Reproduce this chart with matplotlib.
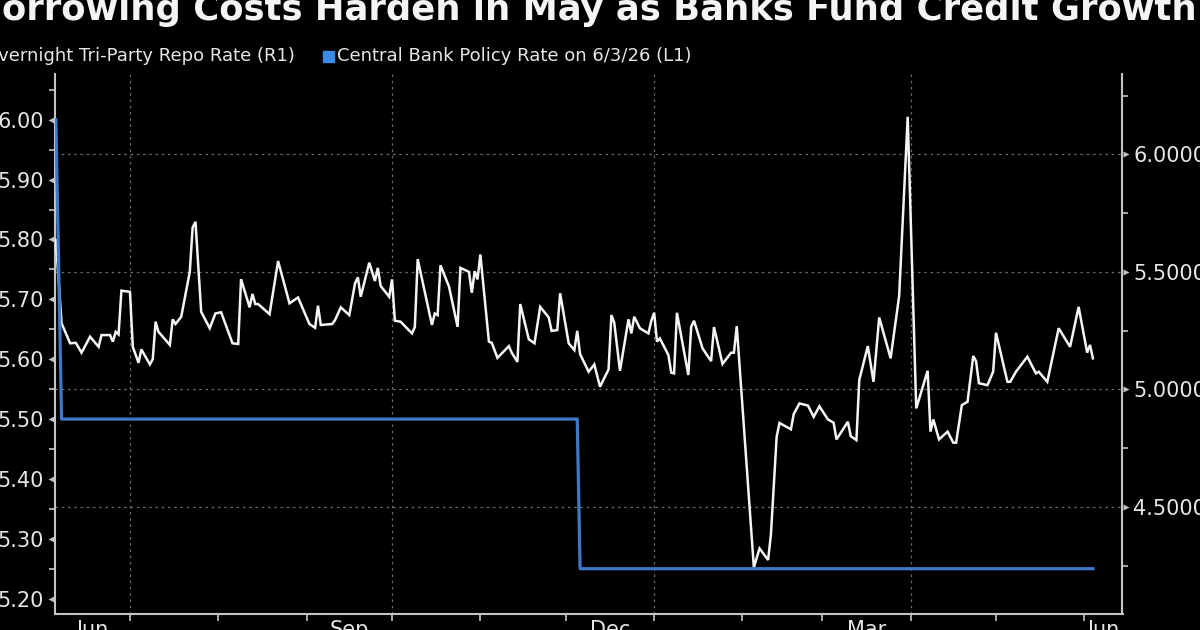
import matplotlib
matplotlib.use("Agg")
import matplotlib.pyplot as plt
import matplotlib.dates as mdates
import matplotlib.ticker as mticker
import matplotlib.patches as mpatches
from matplotlib.transforms import ScaledTranslation
import pandas as pd

title = "Borrowing Costs Harden in May as Banks Fund Credit Growth"
repo_label = "Overnight Tri-Party Repo Rate (R1)"
policy_label = "Central Bank Policy Rate on 6/3/26 (L1)"

repo_dates = [
    "2025-06-05", "2025-06-07", "2025-06-10", "2025-06-12", "2025-06-14", "2025-06-17", "2025-06-20", "2025-06-21", "2025-06-24", "2025-06-25",
    "2025-06-26", "2025-06-27", "2025-06-28", "2025-07-01", "2025-07-02", "2025-07-04", "2025-07-05", "2025-07-08", "2025-07-09", "2025-07-10",
    "2025-07-11", "2025-07-15", "2025-07-16", "2025-07-17", "2025-07-19", "2025-07-22", "2025-07-23", "2025-07-24", "2025-07-26", "2025-07-29",
    "2025-07-31", "2025-08-02", "2025-08-06", "2025-08-08", "2025-08-09", "2025-08-12", "2025-08-13", "2025-08-14", "2025-08-15", "2025-08-19",
    "2025-08-22", "2025-08-26", "2025-08-29", "2025-09-02", "2025-09-04", "2025-09-05", "2025-09-06", "2025-09-10", "2025-09-11", "2025-09-13",
    "2025-09-16", "2025-09-18", "2025-09-19", "2025-09-20", "2025-09-23", "2025-09-25", "2025-09-26", "2025-09-27", "2025-09-30", "2025-10-01",
    "2025-10-02", "2025-10-04", "2025-10-08", "2025-10-09", "2025-10-10", "2025-10-15", "2025-10-16", "2025-10-17", "2025-10-18", "2025-10-21",
    "2025-10-24", "2025-10-25", "2025-10-28", "2025-10-29", "2025-10-30", "2025-10-31", "2025-11-01", "2025-11-04", "2025-11-05", "2025-11-07",
    "2025-11-11", "2025-11-12", "2025-11-14", "2025-11-15", "2025-11-18", "2025-11-20", "2025-11-22", "2025-11-25", "2025-11-26", "2025-11-28",
    "2025-11-29", "2025-12-02", "2025-12-04", "2025-12-05", "2025-12-06", "2025-12-09", "2025-12-11", "2025-12-13", "2025-12-16", "2025-12-17",
    "2025-12-18", "2025-12-20", "2025-12-23", "2025-12-24", "2025-12-25", "2025-12-27", "2025-12-30", "2025-12-31", "2026-01-01", "2026-01-02",
    "2026-01-03", "2026-01-06", "2026-01-07", "2026-01-08", "2026-01-09", "2026-01-13", "2026-01-14", "2026-01-15", "2026-01-18", "2026-01-21",
    "2026-01-22", "2026-01-25", "2026-01-28", "2026-01-29", "2026-01-30", "2026-02-05", "2026-02-07", "2026-02-10", "2026-02-11", "2026-02-13",
    "2026-02-14", "2026-02-18", "2026-02-19", "2026-02-21", "2026-02-24", "2026-02-26", "2026-02-28", "2026-03-03", "2026-03-05", "2026-03-06",
    "2026-03-10", "2026-03-11", "2026-03-13", "2026-03-14", "2026-03-17", "2026-03-19", "2026-03-21", "2026-03-25", "2026-03-28", "2026-03-31",
    "2026-04-03", "2026-04-07", "2026-04-08", "2026-04-09", "2026-04-11", "2026-04-14", "2026-04-16", "2026-04-17", "2026-04-19", "2026-04-21",
    "2026-04-23", "2026-04-24", "2026-04-25", "2026-04-28", "2026-04-30", "2026-05-01", "2026-05-05", "2026-05-06", "2026-05-08", "2026-05-12",
    "2026-05-15", "2026-05-16", "2026-05-19", "2026-05-23", "2026-05-27", "2026-05-30", "2026-06-02", "2026-06-03", "2026-06-04",
]
repo_values = [
    5.635, 5.281, 5.196, 5.198, 5.156, 5.224, 5.181, 5.231, 5.231, 5.203,
    5.245, 5.234, 5.420, 5.415, 5.181, 5.113, 5.170, 5.106, 5.128, 5.288,
    5.245, 5.189, 5.298, 5.278, 5.309, 5.500, 5.689, 5.713, 5.330, 5.260,
    5.323, 5.328, 5.196, 5.193, 5.469, 5.349, 5.406, 5.363, 5.363, 5.320,
    5.546, 5.366, 5.391, 5.278, 5.262, 5.356, 5.274, 5.278, 5.295, 5.349,
    5.316, 5.451, 5.477, 5.394, 5.539, 5.461, 5.517, 5.440, 5.394, 5.468,
    5.292, 5.288, 5.238, 5.265, 5.554, 5.274, 5.323, 5.316, 5.528, 5.437,
    5.266, 5.517, 5.500, 5.411, 5.503, 5.468, 5.574, 5.203, 5.198, 5.134,
    5.184, 5.156, 5.117, 5.363, 5.213, 5.196, 5.351, 5.306, 5.249, 5.252,
    5.409, 5.196, 5.167, 5.249, 5.150, 5.075, 5.106, 5.011, 5.085, 5.316,
    5.283, 5.079, 5.298, 5.238, 5.309, 5.260, 5.238, 5.292, 5.326, 5.203,
    5.217, 5.146, 5.071, 5.068, 5.326, 5.061, 5.266, 5.292, 5.174, 5.120,
    5.265, 5.108, 5.156, 5.156, 5.269, 4.242, 4.323, 4.274, 4.384, 4.798,
    4.857, 4.830, 4.895, 4.940, 4.931, 4.883, 4.928, 4.872, 4.858, 4.787,
    4.862, 4.801, 4.784, 5.040, 5.184, 5.032, 5.306, 5.132, 5.397, 6.160,
    4.919, 5.079, 4.820, 4.872, 4.787, 4.820, 4.773, 4.773, 4.933, 4.947,
    5.142, 5.120, 5.026, 5.018, 5.075, 5.241, 5.032, 5.032, 5.075, 5.139,
    5.068, 5.075, 5.032, 5.260, 5.181, 5.351, 5.156, 5.189, 5.132,
]

policy_dates = ["2025-06-05", "2025-06-07", "2025-12-05", "2025-12-06", "2026-06-04"]
policy_values = [6.00, 5.50, 5.50, 5.25, 5.25]

left_ticks = [5.20, 5.30, 5.40, 5.50, 5.60, 5.70, 5.80, 5.90, 6.00]
right_ticks = [4.50, 5.00, 5.50, 6.00]
month_labels = ["Jun", "Sep", "Dec", "Mar", "Jun"]
label_months = ["2025-06-01", "2025-09-01", "2025-12-01", "2026-03-01", "2026-06-01"]

assert len(repo_dates) == len(repo_values)

BG = "#000000"
FG = "#e6e6e6"
SPINE = "#c4c4c4"
GRID = "#6b6b6b"
WHITE_LINE = "#f4f4f4"
BLUE_LINE = "#3f78c8"
BLUE_KEY = "#3d8ae6"
TICK_FS = 15
LEG_FS = 13

fig = plt.figure(figsize=(12, 6.3), dpi=100, facecolor=BG)
W, H = 1200, 630
ax = fig.add_axes([55 / W, 1 - 614 / H, (1122.5 - 55) / W, (614 - 74) / H])
ax.set_facecolor(BG)
ax2 = ax.twinx()
ax2.patch.set_visible(False)

rd = pd.to_datetime(repo_dates)
pdts = pd.to_datetime(policy_dates)

ax.plot(rd, repo_values, color=WHITE_LINE, lw=1.8, solid_joinstyle="miter", zorder=3)
ax2.plot(pdts, policy_values, color=BLUE_LINE, lw=2.3, zorder=4)

x0 = pd.Timestamp("2025-06-01") + pd.Timedelta(days=3.69)
x1 = pd.Timestamp("2025-06-01") + pd.Timedelta(days=378.4)
ax.set_xlim(x0, x1)
ax.set_ylim(4.044, 6.342)
ax2.set_ylim(5.1743, 6.0765)

# spines
for a in (ax, ax2):
    for s in a.spines.values():
        s.set_visible(False)
for side in ("left", "right", "bottom"):
    ax.spines[side].set_visible(True)
    ax.spines[side].set_color(SPINE)
    ax.spines[side].set_linewidth(1.5)

# right axis (repo)
ax.yaxis.tick_right()
ax.set_yticks(right_ticks)
ax.yaxis.set_minor_locator(mticker.FixedLocator([4.25, 4.75, 5.25, 5.75, 6.25]))
ax.yaxis.set_major_formatter(mticker.FormatStrFormatter("%.4f"))
ax.tick_params(axis="y", which="major", length=0, pad=7.6, labelsize=TICK_FS, labelcolor=FG)
ax.tick_params(axis="y", which="minor", length=4, width=1.2, color=SPINE, right=True, left=False)

# left axis (policy)
ax2.yaxis.tick_left()
ax2.set_yticks(left_ticks)
ax2.yaxis.set_minor_locator(mticker.MultipleLocator(0.05))
ax2.yaxis.set_major_formatter(mticker.FormatStrFormatter("%.2f"))
ax2.tick_params(axis="y", which="major", length=0, pad=8.0, labelsize=TICK_FS, labelcolor=FG)
ax2.tick_params(axis="y", which="minor", length=4, width=1.2, color=SPINE, left=True, right=False)

# triangle tick markers
tr_r = ax.get_yaxis_transform() + ScaledTranslation(4 / 100, 0, fig.dpi_scale_trans)
ax.plot([1] * len(right_ticks), right_ticks, ls="none", marker=">", ms=5, color=SPINE,
        mec="none", transform=tr_r, clip_on=False)
tr_l = ax2.get_yaxis_transform() + ScaledTranslation(-4 / 100, 0, fig.dpi_scale_trans)
ax2.plot([0] * len(left_ticks), left_ticks, ls="none", marker="<", ms=5, color=SPINE,
         mec="none", transform=tr_l, clip_on=False)

# x axis
ax.xaxis.set_major_locator(mdates.MonthLocator(bymonth=[1, 4, 7, 10]))
ax.xaxis.set_minor_locator(mdates.MonthLocator())
ax.xaxis.set_major_formatter(mticker.NullFormatter())
ax.tick_params(axis="x", which="both", length=5, width=1.2, color=SPINE, direction="out")

# grids
ax.grid(True, axis="y", which="major", color=GRID, lw=0.9, ls=(0, (2, 3)))
ax.grid(True, axis="x", which="major", color=GRID, lw=0.9, ls=(0, (2, 3)))

# month labels centred in the visible part of each labelled month
lab_tr = ax.get_xaxis_transform() + ScaledTranslation(0, -6 / 100, fig.dpi_scale_trans)
for lab, m in zip(month_labels, label_months):
    ms = pd.Timestamp(m)
    me = ms + pd.offsets.MonthBegin(1)
    a = max(ms, x0)
    b = min(me, x1)
    c = a + (b - a) / 2
    ax.text(c, 0, lab, transform=lab_tr, ha="center", va="top",
            fontsize=TICK_FS, color=FG, clip_on=False)

# title
fig.text(1197 / W, 1 - 20 / H, title, ha="right", va="baseline",
         fontsize=25.5, fontweight="bold", color="#f4f4f4")

# legend
ly = 1 - 56 / H
t1 = fig.text(295 / W, ly, repo_label, ha="right", va="center", fontsize=LEG_FS, color=FG)
fig.text(337 / W, ly, policy_label, ha="left", va="center", fontsize=LEG_FS, color=FG)
fig.patches.append(mpatches.Rectangle((323 / W, 1 - 62 / H), 11 / W, 11 / H,
                                      transform=fig.transFigure, color=BLUE_KEY))
fig.canvas.draw()
bb = t1.get_window_extent()
fig.patches.append(mpatches.Rectangle(((bb.x0 - 15) / W, 1 - 62 / H), 11 / W, 11 / H,
                                      transform=fig.transFigure, color="#f4f4f4"))

fig.savefig("out.png", dpi=100, facecolor=BG)
